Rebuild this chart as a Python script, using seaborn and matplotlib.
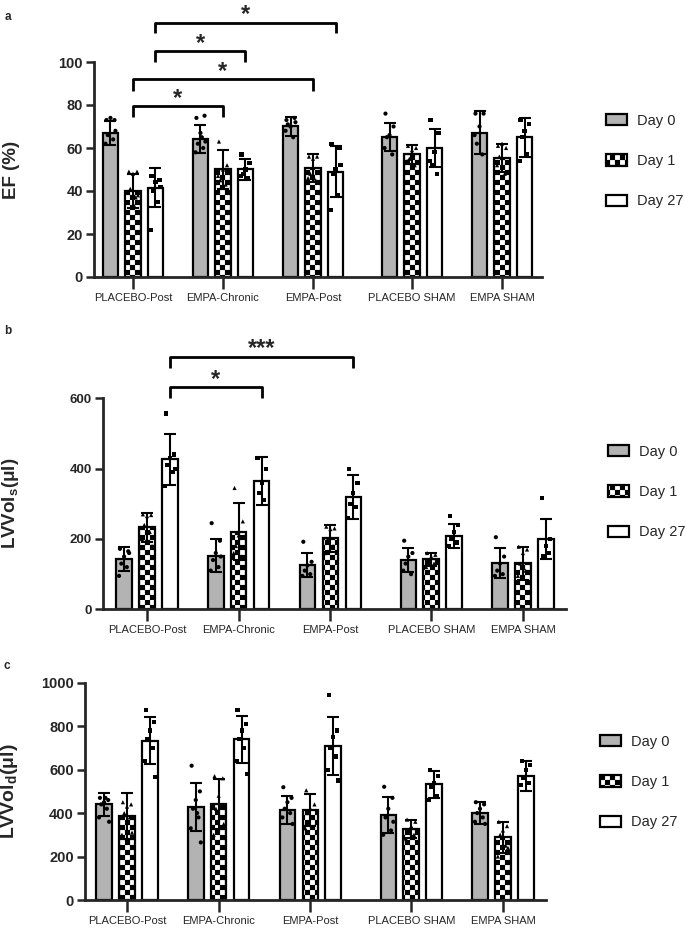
import numpy as np
import pandas as pd
import matplotlib
matplotlib.use("Agg")
import matplotlib.pyplot as plt
import matplotlib.hatch as mhatch
from matplotlib.path import Path
from matplotlib.patches import Patch
import seaborn as sns

# ---------------- data ----------------
groups = ["PLACEBO-Post", "EMPA-Chronic", "EMPA-Post", "PLACEBO SHAM", "EMPA SHAM"]
days = ["Day 0", "Day 1", "Day 27"]

# Panel a: EF (%)
ef_day0_mean = [67, 64, 70, 65, 67]
ef_day1_mean = [40, 50, 50.5, 57, 55.5]
ef_day27_mean = [41.5, 50, 49, 60, 65]
ef_day0_sd = [5.5, 6.5, 4.5, 6.5, 10]
ef_day1_sd = [8, 9, 6.5, 4.5, 6.5]
ef_day27_sd = [9, 5, 12, 9, 9]
ef_day0_pts = [[73, 73, 74, 66, 64, 62, 68], [74, 75, 67, 62, 60, 58, 63, 65],
               [73, 74, 70, 71, 65, 68, 72], [76, 70, 66, 65, 57, 60], [76, 76, 70, 62, 57, 66]]
ef_day1_pts = [[49, 49, 48, 41, 37, 35, 38, 33], [63, 52, 50, 45, 43, 47],
               [56, 56, 55, 48, 45, 46], [61, 60, 59, 55, 52, 54], [61, 60, 62, 56, 48, 52]]
ef_day27_pts = [[47, 45, 44, 40, 35, 22, 42], [57, 53, 50, 48, 46, 47],
                [62, 60, 50, 48, 38, 31, 52], [73, 67, 58, 52, 48, 54], [73, 71, 68, 65, 57, 54]]

# Panel b: LVVol_s (ul)
vs_day0_mean = [142, 152, 126, 140, 131]
vs_day1_mean = [233, 221, 202, 142, 131]
vs_day27_mean = [426, 366, 320, 208, 199]
vs_day0_sd = [34, 47, 35, 33, 42]
vs_day1_sd = [42, 82, 38, 19, 47]
vs_day27_sd = [72, 68, 62, 35, 57]
vs_day0_pts = [[172, 165, 150, 130, 120, 95, 160], [245, 195, 160, 140, 120, 110, 150],
               [192, 135, 125, 110, 100, 95], [195, 160, 150, 130, 100, 110], [205, 150, 130, 110, 100, 95]]
vs_day1_pts = [[270, 268, 265, 240, 220, 200, 180], [345, 250, 210, 180, 150, 160],
               [235, 230, 228, 200, 180, 160], [160, 155, 150, 140, 130, 120], [178, 170, 160, 130, 110, 95]]
vs_day27_pts = [[557, 440, 430, 410, 390, 350, 400], [430, 400, 360, 330, 310],
                [398, 360, 330, 300, 290, 260], [265, 240, 220, 200, 190, 180], [316, 200, 180, 150, 160]]

# Panel c: LVVol_d (ul)
vd_day0_mean = [440, 429, 414, 391, 399]
vd_day1_mean = [387, 442, 414, 327, 288]
vd_day27_mean = [733, 739, 710, 532, 571]
vd_day0_sd = [54, 111, 65, 82, 51]
vd_day1_sd = [104, 113, 72, 41, 72]
vd_day27_sd = [108, 108, 134, 62, 69]
vd_day0_pts = [[470, 460, 450, 440, 420, 380, 360, 470], [618, 500, 460, 420, 380, 330, 265, 400],
               [519, 470, 450, 420, 400, 380, 350], [521, 470, 420, 380, 320, 300, 360],
               [450, 440, 420, 400, 380, 360, 350]]
vd_day1_pts = [[450, 440, 430, 400, 380, 300, 310], [570, 560, 480, 420, 380, 300, 350],
               [505, 440, 420, 400, 380, 330], [370, 360, 340, 320, 300, 280],
               [360, 340, 320, 300, 250, 200, 240]]
vd_day27_pts = [[874, 820, 780, 740, 700, 640, 565], [874, 810, 780, 740, 700, 640, 580],
                [943, 780, 750, 700, 660, 600, 550], [600, 570, 540, 520, 480, 460],
                [640, 620, 600, 560, 540, 530]]

# ---------------- checkerboard hatch ----------------
class CheckerHatch(mhatch.HatchPatternBase):
    def __init__(self, hatch, density):
        self.n = 20 * hatch.count('.')
        self.num_vertices = (self.n * self.n // 2) * 5 if self.n else 0

    def set_vertices_and_codes(self, vertices, codes):
        n = self.n
        s = 1.0 / n
        k = 0
        for i in range(n):
            for j in range(n):
                if (i + j) % 2 == 0:
                    x0, y0 = i * s, j * s
                    vertices[k:k + 5] = [[x0, y0], [x0 + s, y0], [x0 + s, y0 + s], [x0, y0 + s], [x0, y0]]
                    codes[k:k + 5] = [Path.MOVETO, Path.LINETO, Path.LINETO, Path.LINETO, Path.CLOSEPOLY]
                    k += 5

mhatch._hatch_types = [t for t in mhatch._hatch_types if t is not mhatch.SmallFilledCircles] + [CheckerHatch]

# ---------------- style ----------------
sns.set_style("ticks")
plt.rcParams["font.family"] = ["Liberation Sans", "DejaVu Sans"]
plt.rcParams["hatch.linewidth"] = 0.1
plt.rcParams["hatch.color"] = "black"
plt.rcParams["mathtext.fontset"] = "custom"
plt.rcParams["mathtext.rm"] = "Liberation Sans:bold"
plt.rcParams["mathtext.it"] = "Liberation Sans:bold"
plt.rcParams["mathtext.bf"] = "Liberation Sans:bold"

group_pos = [0, 1, 2, 3.1, 4.1]
offsets = [-0.25, 0.0, 0.25]
colors = {"Day 0": "#b3b3b3", "Day 1": "white", "Day 27": "white"}
markers = {"Day 0": "o", "Day 1": "^", "Day 27": "s"}
spread = [-0.045, 0.045, 0.0, -0.03, 0.03, -0.055, 0.055, 0.015]

fig = plt.figure(figsize=(6.85, 9.3), dpi=100)


def draw_panel(rect, means, sds, pts, ylim, yticks, ylabel, ytick_fs, ylabel_fs, xlim, ylab_x):
    ax = fig.add_axes(rect)
    rows = []
    for d, day in enumerate(days):
        for g in range(len(groups)):
            rows.append({"pos": group_pos[g], "Day": day, "mean": means[d][g]})
    df = pd.DataFrame(rows)
    sns.barplot(data=df, x="pos", y="mean", hue="Day", hue_order=days, native_scale=True,
                width=0.75, gap=0.32, palette=colors, saturation=1, edgecolor="black",
                linewidth=1.6, errorbar=None, legend=False, ax=ax, zorder=2)
    for bar in ax.containers[1]:
        bar.set_hatch(".")
    # error bars (mean +/- SD)
    for d in range(3):
        xs = [p + offsets[d] for p in group_pos]
        ax.errorbar(xs, means[d], yerr=sds[d], fmt="none", ecolor="black",
                    elinewidth=1.5, capsize=4, capthick=1.5, zorder=3)
    # individual points
    prow = []
    for d, day in enumerate(days):
        for g in range(len(groups)):
            for k, v in enumerate(pts[d][g]):
                prow.append({"x": group_pos[g] + offsets[d] + spread[k % len(spread)],
                             "val": v, "Day": day})
    pdf = pd.DataFrame(prow)
    sns.scatterplot(data=pdf, x="x", y="val", style="Day", markers=markers, color="black",
                    s=9, linewidth=0, legend=False, ax=ax, zorder=4)
    ax.set_xlim(*xlim)
    ax.set_ylim(*ylim)
    ax.set_yticks(yticks)
    ax.set_xticks(group_pos)
    ax.set_xticklabels(groups)
    ax.set_xlabel("")
    ax.set_ylabel(ylabel, fontsize=ylabel_fs, fontweight="bold")
    ax.yaxis.set_label_coords(ylab_x, 0.5)
    for s in ["top", "right"]:
        ax.spines[s].set_visible(False)
    for s in ["left", "bottom"]:
        ax.spines[s].set_linewidth(2.0)
    ax.tick_params(axis="x", length=8.5, width=1.8, labelsize=8, pad=3)
    ax.tick_params(axis="y", length=6, width=1.8, labelsize=ytick_fs, pad=2)
    for lbl in ax.get_yticklabels():
        lbl.set_fontweight("bold")
    return ax


def bracket(ax, x1, x2, ytop, ydrop, ystar, text, fs=17):
    ax.plot([x1, x1, x2, x2], [ydrop, ytop, ytop, ydrop], color="black", lw=2,
            clip_on=False, solid_capstyle="butt", zorder=5)
    ax.text((x1 + x2) / 2, ystar, text, ha="center", va="baseline", fontsize=fs,
            fontweight="bold", clip_on=False)


def legend(x, y):
    handles = [Patch(facecolor=colors[d], edgecolor="black", linewidth=1.6,
                     hatch="." if d == "Day 1" else None) for d in days]
    fig.legend(handles, days, loc="center left", bbox_to_anchor=(x, y), frameon=False,
               borderpad=0, borderaxespad=0, fontsize=10.5, handlelength=1.45,
               handleheight=0.82, handletextpad=0.7, labelspacing=1.8)


# Panel a
axa = draw_panel([94 / 685, 1 - 277 / 930, 448 / 685, 215 / 930],
                 [ef_day0_mean, ef_day1_mean, ef_day27_mean],
                 [ef_day0_sd, ef_day1_sd, ef_day27_sd],
                 [ef_day0_pts, ef_day1_pts, ef_day27_pts],
                 (0, 100), [0, 20, 40, 60, 80, 100], "EF (%)", 10.5, 13.5,
                 (-0.433, 4.544), -0.165)
bracket(axa, 0.25, 2.25, 118.3, 113.5, 119.1, "*")
bracket(axa, 0.25, 1.25, 105.1, 100.0, 105.6, "*")
bracket(axa, 0.0, 2.0, 92.1, 86.5, 92.6, "*")
bracket(axa, 0.0, 1.0, 79.5, 74.4, 80.0, "*")
legend(606 / 685, 1 - 161 / 930)

# Panel b
axb = draw_panel([103 / 685, 1 - 609.3 / 930, 463 / 685, 211 / 930],
                 [vs_day0_mean, vs_day1_mean, vs_day27_mean],
                 [vs_day0_sd, vs_day1_sd, vs_day27_sd],
                 [vs_day0_pts, vs_day1_pts, vs_day27_pts],
                 (0, 600), [0, 200, 400, 600], r"LVVol$_{\mathregular{s}}$(μl)", 9.5, 13.5,
                 (-0.48, 4.57), -0.178)
bracket(axb, 0.25, 2.25, 716.5, 685, 724, "***")
bracket(axb, 0.25, 1.25, 633, 600, 634, "*")
legend(608 / 685, 1 - 492 / 930)

# Panel c
axc = draw_panel([85 / 685, 1 - 900 / 930, 461 / 685, 217.3 / 930],
                 [vd_day0_mean, vd_day1_mean, vd_day27_mean],
                 [vd_day0_sd, vd_day1_sd, vd_day27_sd],
                 [vd_day0_pts, vd_day1_pts, vd_day27_pts],
                 (0, 1000), [0, 200, 400, 600, 800, 1000], r"LVVol$_{\mathregular{d}}$(μl)", 10.5, 14,
                 (-0.458, 4.57), -0.14)
legend(600 / 685, 1 - 782 / 930)

for lab, (x, y) in {"a": (7.5, 16.5), "b": (8, 331), "c": (7, 666)}.items():
    fig.text(x / 685, 1 - y / 930, lab, fontsize=8.5, fontweight="bold", ha="center", va="center")

fig.savefig("out.png", dpi=100)
